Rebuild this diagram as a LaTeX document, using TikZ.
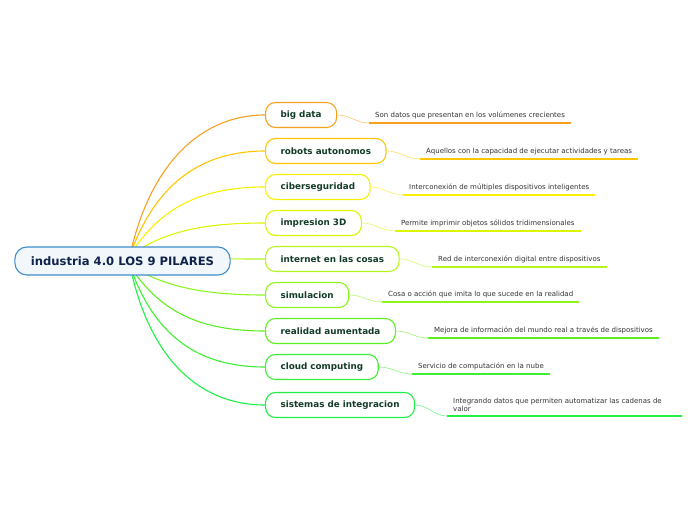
\documentclass[tikz,border=0pt]{standalone}
\usepackage{fontspec}
\setmainfont{DejaVu Sans}
\usetikzlibrary{backgrounds}
\definecolor{c1}{RGB}{247,160,30}
\definecolor{c2}{RGB}{255,198,0}
\definecolor{c3}{RGB}{248,240,0}
\definecolor{c4}{RGB}{222,245,0}
\definecolor{c5}{RGB}{180,245,30}
\definecolor{c6}{RGB}{140,245,30}
\definecolor{c7}{RGB}{92,240,30}
\definecolor{c8}{RGB}{60,240,50}
\definecolor{c9}{RGB}{30,240,70}
\definecolor{centerborder}{RGB}{60,140,205}
\definecolor{centerfill}{RGB}{242,247,252}
\definecolor{centertext}{RGB}{15,35,75}
\definecolor{branchtext}{RGB}{20,60,40}
\definecolor{leaftext}{RGB}{50,50,50}
\tikzset{
  centernode/.style={draw=centerborder, fill=centerfill, line width=1.1pt, rounded corners=12pt,
    minimum height=28pt, inner xsep=16pt, text=centertext, font=\bfseries\fontsize{11.6}{13}\selectfont},
  branch/.style={draw=#1, fill=white, line width=1.1pt, rounded corners=10pt, minimum height=25pt,
    inner xsep=15pt, anchor=west, text=branchtext, font=\bfseries\fontsize{8.8}{10}\selectfont},
  leaf/.style={anchor=south west, inner xsep=6pt, inner ysep=4pt, text=leaftext,
    font=\fontsize{7}{8.5}\selectfont, align=left},
  uline/.style={draw=#1, line width=1.6pt},
  mainlink/.style={draw=#1, line width=1.1pt},
  sublink/.style={draw=#1!55!white, line width=0.7pt},
}
\begin{document}
\begin{tikzpicture}[x=1pt,y=-1pt]
\useasboundingbox (0,0) rectangle (696,520);
\node[centernode] (c) at (122.5,261) {industria 4.0 LOS 9 PILARES};
\coordinate (ou) at (130,255);
\coordinate (ol) at (130,266);

\node[branch=c1] (b1) at (265,115) {big data};
\node[branch=c2] (b2) at (265,151) {robots autonomos};
\node[branch=c3] (b3) at (265,187) {ciberseguridad};
\node[branch=c4] (b4) at (265,223) {impresion 3D};
\node[branch=c5] (b5) at (265,259) {internet en las cosas};
\node[branch=c6] (b6) at (265,295) {simulacion};
\node[branch=c7] (b7) at (265,331) {realidad aumentada};
\node[branch=c8] (b8) at (265,367) {cloud computing};
\node[branch=c9] (b9) at (265,405) {sistemas de integracion};

\node[leaf] (l1) at (369,123) {Son datos que presentan en los volúmenes crecientes};
\node[leaf] (l2) at (420,159) {Aquellos con la capacidad de ejecutar actividades y tareas};
\node[leaf] (l3) at (403,195) {Interconexión de múltiples dispositivos inteligentes};
\node[leaf] (l4) at (395,231) {Permite imprimir objetos sólidos tridimensionales};
\node[leaf] (l5) at (432,267) {Red de interconexión digital entre dispositivos};
\node[leaf] (l6) at (382,302) {Cosa o acción que imita lo que sucede en la realidad};
\node[leaf] (l7) at (428,338) {Mejora de información del mundo real a través de dispositivos};
\node[leaf] (l8) at (412,374) {Servicio de computación en la nube};
\node[leaf] (l9) at (447,416) {Integrando datos que permiten automatizar las cadenas de\\valor};

\path[uline=c1] (l1.south west) -- (l1.south east);
\path[uline=c2] (l2.south west) -- (l2.south east);
\path[uline=c3] (l3.south west) -- (l3.south east);
\path[uline=c4] (l4.south west) -- (l4.south east);
\path[uline=c5] (l5.south west) -- (l5.south east);
\path[uline=c6] (l6.south west) -- (l6.south east);
\path[uline=c7] (l7.south west) -- (l7.south east);
\path[uline=c8] (l8.south west) -- (l8.south east);
\path[uline=c9] (l9.south west) -- ([xshift=14pt]l9.south east);

\path[sublink=c1] (b1.east) to[out=0,in=180] (l1.south west);
\path[sublink=c2] (b2.east) to[out=0,in=180] (l2.south west);
\path[sublink=c3] (b3.east) to[out=0,in=180] (l3.south west);
\path[sublink=c4] (b4.east) to[out=0,in=180] (l4.south west);
\path[sublink=c5] (b5.east) to[out=0,in=180] (l5.south west);
\path[sublink=c6] (b6.east) to[out=0,in=180] (l6.south west);
\path[sublink=c7] (b7.east) to[out=0,in=180] (l7.south west);
\path[sublink=c8] (b8.east) to[out=0,in=180] (l8.south west);
\path[sublink=c9] (b9.east) to[out=0,in=180] (l9.south west);

\begin{scope}[on background layer]
\path[mainlink=c1] (ou) .. controls (150,165) and (200,115) .. (b1.west);
\path[mainlink=c2] (ou) .. controls (155,185) and (200,151) .. (b2.west);
\path[mainlink=c3] (ou) .. controls (160,208) and (200,187) .. (b3.west);
\path[mainlink=c4] (ou) .. controls (165,232) and (200,223) .. (b4.west);
\path[mainlink=c5] (ou) .. controls (170,258) and (210,259) .. (b5.west);
\path[mainlink=c6] (ol) .. controls (165,286) and (200,295) .. (b6.west);
\path[mainlink=c7] (ol) .. controls (160,312) and (200,331) .. (b7.west);
\path[mainlink=c8] (ol) .. controls (155,338) and (200,367) .. (b8.west);
\path[mainlink=c9] (ol) .. controls (150,360) and (200,405) .. (b9.west);
\end{scope}
\end{tikzpicture}
\end{document}
